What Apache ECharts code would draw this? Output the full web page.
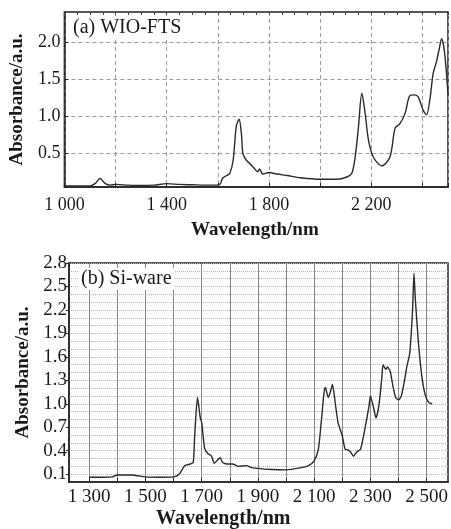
<!DOCTYPE html>
<html><head><meta charset="utf-8">
<script src="https://cdn.jsdelivr.net/npm/echarts@6/dist/echarts.min.js"></script>
<style>html,body{margin:0;padding:0;background:#fff}#c{width:451px;height:529px}</style>
</head><body><div id="c"></div><script>
// (a) WIO-FTS
const wioWavelength = [1000,1050,1100,1120,1140,1160,1180,1200,1250,1300,1350,1400,1450,1500,1550,1600,1610,1620,1635,1647,1660,1672,1683,1692,1698,1711,1737,1756,1763,1776,1800,1832,1871,1923,2000,2065,2104,2124,2137,2150,2163,2176,2189,2208,2241,2273,2293,2312,2332,2351,2370,2384,2403,2416,2430,2442,2455,2465,2475,2487,2500];
const wioAbsorbance = [0.06,0.06,0.06,0.09,0.16,0.09,0.07,0.08,0.07,0.065,0.07,0.09,0.08,0.075,0.07,0.07,0.09,0.17,0.2,0.23,0.41,0.86,0.96,0.77,0.5,0.41,0.32,0.25,0.29,0.22,0.24,0.22,0.2,0.17,0.15,0.15,0.18,0.23,0.45,0.86,1.31,1.04,0.68,0.45,0.33,0.45,0.84,0.9,1.04,1.28,1.29,1.26,1.08,1.02,1.25,1.58,1.74,1.9,2.05,1.85,1.29];
// (b) Si-ware
const siWavelength = [1300,1350,1380,1400,1450,1500,1550,1600,1620,1640,1660,1670,1675,1685,1695,1700,1710,1720,1735,1745,1765,1775,1790,1810,1830,1860,1880,1950,2000,2050,2080,2100,2115,2125,2135,2140,2150,2160,2165,2175,2185,2200,2210,2220,2230,2240,2250,2265,2280,2295,2300,2310,2320,2330,2340,2345,2355,2360,2370,2380,2390,2400,2410,2420,2430,2440,2450,2455,2460,2470,2480,2490,2500,2510,2520];
const siAbsorbance = [0.06,0.06,0.065,0.09,0.09,0.065,0.06,0.065,0.1,0.21,0.23,0.25,0.59,1.08,0.82,0.76,0.44,0.37,0.33,0.24,0.31,0.25,0.23,0.23,0.2,0.21,0.18,0.16,0.155,0.18,0.21,0.27,0.42,0.76,1.14,1.21,1.08,1.18,1.25,1.01,0.76,0.59,0.42,0.41,0.38,0.33,0.38,0.42,0.67,0.97,1.1,0.97,0.82,0.97,1.31,1.5,1.44,1.47,1.42,1.23,1.08,1.05,1.1,1.27,1.48,1.65,2.2,2.67,2.33,1.82,1.44,1.19,1.06,1.01,1.0];

const topXLabels = [1000,1400,1800,2200];
const topYTicks = [0.5,1.0,1.5,2.0];
const botXTicks = [1300,1400,1500,1600,1700,1800,1900,2000,2100,2200,2300,2400,2500];
const botXLabels = [1300,1500,1700,1900,2100,2300,2500];
const botYLabels = [0.1,0.4,0.7,1.0,1.3,1.6,1.9,2.2,2.5,2.8];

const serif = '"Liberation Serif","DejaVu Serif",serif';
const fmtK = v => String(v).replace(/(\d)(\d{3})$/, '$1 $2');
const zip = (xs, ys) => xs.map((x, i) => [x, ys[i]]);

const chart = echarts.init(document.getElementById('c'), null, {renderer: 'canvas'});
chart.setOption({
  animation: false,
  backgroundColor: '#fff',
  grid: [
    {left: 63, top: 12, width: 385, height: 175, show: true, borderColor: '#222', borderWidth: 1.5, containLabel: false},
    {left: 69, top: 263, width: 382, height: 219, show: true, borderColor: '#222', borderWidth: 1.5, containLabel: false}
  ],
  title: [
    {text: '(a) WIO-FTS', left: 70, top: 17, padding: [1, 3], backgroundColor: '#fff',
     textStyle: {fontFamily: serif, fontSize: 20, fontWeight: 'normal', color: '#1a1a1a'}},
    {text: '(b) Si-ware', left: 78, top: 268, padding: [1, 3], backgroundColor: '#fff',
     textStyle: {fontFamily: serif, fontSize: 20, fontWeight: 'normal', color: '#1a1a1a'}},
    {text: 'Wavelength/nm', left: 191, top: 221, padding: 0,
     textStyle: {fontFamily: serif, fontSize: 19, fontWeight: 'bold', color: '#1a1a1a'}},
    {text: 'Wavelength/nm', left: 156, top: 509, padding: 0,
     textStyle: {fontFamily: serif, fontSize: 20, fontWeight: 'bold', color: '#1a1a1a'}}
  ],
  xAxis: [
    {type: 'value', gridIndex: 0, min: 1000, max: 2500, interval: 200,
     axisLine: {show: true, lineStyle: {color: '#222', width: 1.5}},
     axisTick: {show: true, inside: true, length: 4, lineStyle: {color: '#222'}},
     axisLabel: {margin: 9, fontFamily: serif, fontSize: 18, color: '#1a1a1a',
       formatter: v => topXLabels.includes(v) ? fmtK(v) : ''},
     splitLine: {show: true, lineStyle: {color: '#9a9a9a', type: [4, 3], width: 1}}},
    {type: 'value', gridIndex: 0, position: 'top', min: 1000, max: 2500, interval: 50,
     axisLine: {show: false}, axisLabel: {show: false}, splitLine: {show: false},
     axisTick: {show: true, inside: true, length: 3, lineStyle: {color: '#444'}}},
    {type: 'value', gridIndex: 1, min: 1228, max: 2576,
     axisLine: {show: true, lineStyle: {color: '#222', width: 1.5}},
     axisTick: {show: true, inside: true, length: 4, customValues: botXTicks, lineStyle: {color: '#222'}},
     axisLabel: {margin: 6, fontFamily: serif, fontSize: 19, color: '#1a1a1a',
       customValues: botXLabels, formatter: v => fmtK(v)},
     splitLine: {show: true, lineStyle: {color: '#888', width: 1}}}
  ],
  yAxis: [
    {type: 'value', gridIndex: 0, min: 0.045, max: 2.41,
     name: 'Absorbance/a.u.', nameLocation: 'middle', nameGap: 35,
     nameTextStyle: {fontFamily: serif, fontSize: 19, fontWeight: 'bold', color: '#1a1a1a'},
     axisLine: {show: true, lineStyle: {color: '#222', width: 1.5}},
     axisTick: {show: true, inside: true, length: 4, customValues: topYTicks, lineStyle: {color: '#222'}},
     axisLabel: {margin: 4, fontFamily: serif, fontSize: 18, color: '#1a1a1a',
       customValues: topYTicks, formatter: v => v.toFixed(1)},
     splitLine: {show: true, lineStyle: {color: '#9a9a9a', type: [4, 3], width: 1}}},
    {type: 'value', gridIndex: 1, min: 0, max: 2.8,
     name: 'Absorbance/a.u.', nameLocation: 'middle', nameGap: 32,
     nameTextStyle: {fontFamily: serif, fontSize: 19, fontWeight: 'bold', color: '#1a1a1a'},
     axisLine: {show: true, lineStyle: {color: '#222', width: 1.5}},
     axisTick: {show: true, inside: false, length: 3, customValues: botYLabels, lineStyle: {color: '#222'}},
     axisLabel: {margin: 2, fontFamily: serif, fontSize: 19, color: '#1a1a1a',
       customValues: botYLabels, formatter: v => v.toFixed(1)},
     splitLine: {show: false}},
    {type: 'value', gridIndex: 1, position: 'left', min: 0, max: 2.8, interval: 0.1,
     axisLine: {show: false}, axisTick: {show: false}, axisLabel: {show: false},
     splitLine: {show: true, lineStyle: {color: '#b5b5b5', type: [1, 1], width: 1}}}
  ],
  series: [
    {type: 'line', xAxisIndex: 0, yAxisIndex: 0, data: zip(wioWavelength, wioAbsorbance),
     showSymbol: false, smooth: 0.3, lineStyle: {color: '#2a2a2a', width: 1.4}, z: 5},
    {type: 'line', xAxisIndex: 2, yAxisIndex: 1, data: zip(siWavelength, siAbsorbance),
     showSymbol: false, smooth: 0.2, lineStyle: {color: '#2a2a2a', width: 1.4}, z: 5}
  ]
});
</script></body></html>
